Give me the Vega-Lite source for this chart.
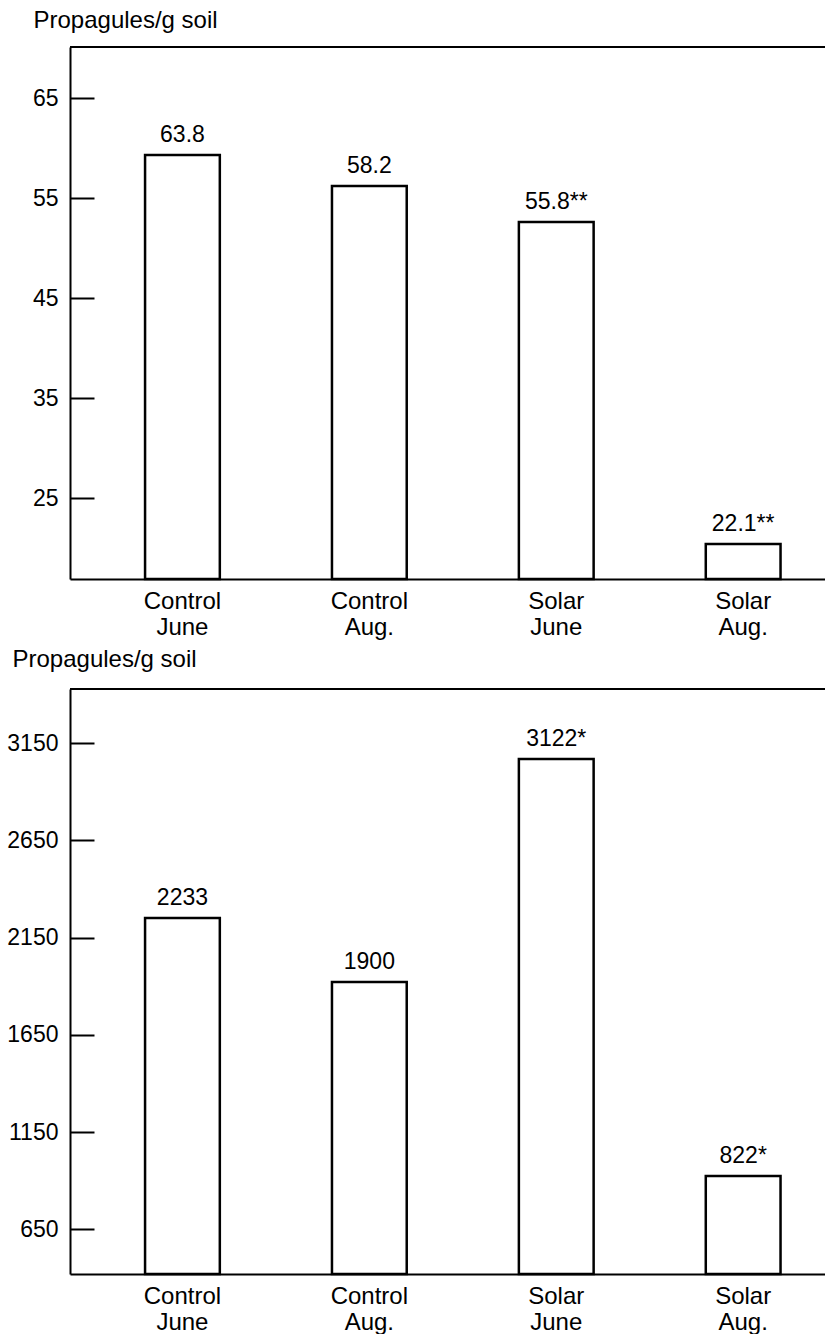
{
  "$schema": "https://vega.github.io/schema/vega-lite/v6.json",
  "padding": {"left": 6, "top": 8, "right": 0, "bottom": 0},
  "spacing": 8,
  "config": {"view": {"stroke": null}, "font": "Liberation Sans"},
  "datasets": {
    "top": [
      {"group": "Control June", "height": 59.3, "label": "63.8"},
      {"group": "Control Aug.", "height": 56.2, "label": "58.2"},
      {"group": "Solar June", "height": 52.6, "label": "55.8**"},
      {"group": "Solar Aug.", "height": 20.4, "label": "22.1**"}
    ],
    "bottom": [
      {"group": "Control June", "height": 2250, "label": "2233"},
      {"group": "Control Aug.", "height": 1922, "label": "1900"},
      {"group": "Solar June", "height": 3068, "label": "3122*"},
      {"group": "Solar Aug.", "height": 924, "label": "822*"}
    ]
  },
  "vconcat": [
    {
      "width": 755,
      "height": 532,
      "data": {"name": "top"},
      "layer": [
        {
          "mark": {"type": "rule", "color": "black", "strokeWidth": 2},
          "encoding": {"y": {"datum": 70.1, "type": "quantitative"}}
        },
        {
          "encoding": {
            "x": {
              "field": "group", "type": "nominal", "sort": null,
              "scale": {"range": [0, 785.6], "paddingInner": 0.6, "paddingOuter": 0.4016},
              "axis": {"title": null, "labelExpr": "split(datum.label, ' ')", "labelFontSize": 24, "labelColor": "black", "labelAngle": 0, "labelPadding": 10, "labelLineHeight": 26, "labelBaseline": "top", "ticks": false, "domainColor": "black", "domainWidth": 2}
            },
            "y": {
              "field": "height", "type": "quantitative",
              "scale": {"domain": [16.9, 70.1], "nice": false, "zero": false},
              "axis": {"values": [25, 35, 45, 55, 65], "format": "d", "title": "Propagules/g soil", "titleAngle": 0, "titleAlign": "left", "titleBaseline": "alphabetic", "titleX": -37, "titleY": -20, "titleFontSize": 24, "titleFontWeight": "normal", "titleColor": "black", "labelFontSize": 23, "labelColor": "black", "labelPadding": 36, "tickSize": -24, "tickWidth": 2, "tickColor": "black", "domainColor": "black", "domainWidth": 2, "grid": false}
            }
          },
          "layer": [
            {
              "mark": {"type": "bar", "fill": "white", "stroke": "black", "strokeWidth": 2.5},
              "encoding": {"y2": {"datum": 16.9}}
            },
            {
              "mark": {"type": "text", "fontSize": 23, "dy": -13, "baseline": "alphabetic", "color": "black"},
              "encoding": {"text": {"field": "label"}}
            }
          ]
        }
      ]
    },
    {
      "width": 755,
      "height": 585,
      "data": {"name": "bottom"},
      "layer": [
        {
          "mark": {"type": "rule", "color": "black", "strokeWidth": 2},
          "encoding": {"y": {"datum": 3428, "type": "quantitative"}}
        },
        {
          "encoding": {
            "x": {
              "field": "group", "type": "nominal", "sort": null,
              "scale": {"range": [0, 785.6], "paddingInner": 0.6, "paddingOuter": 0.4016},
              "axis": {"title": null, "labelExpr": "split(datum.label, ' ')", "labelFontSize": 24, "labelColor": "black", "labelAngle": 0, "labelPadding": 10, "labelLineHeight": 26, "labelBaseline": "top", "ticks": false, "domainColor": "black", "domainWidth": 2}
            },
            "y": {
              "field": "height", "type": "quantitative",
              "scale": {"domain": [420, 3428], "nice": false, "zero": false},
              "axis": {"values": [650, 1150, 1650, 2150, 2650, 3150], "format": "d", "title": "Propagules/g soil", "titleAngle": 0, "titleAlign": "left", "titleBaseline": "alphabetic", "titleX": -58, "titleY": -23, "titleFontSize": 24, "titleFontWeight": "normal", "titleColor": "black", "labelFontSize": 23, "labelColor": "black", "labelPadding": 36, "tickSize": -24, "tickWidth": 2, "tickColor": "black", "domainColor": "black", "domainWidth": 2, "grid": false}
            }
          },
          "layer": [
            {
              "mark": {"type": "bar", "fill": "white", "stroke": "black", "strokeWidth": 2.5},
              "encoding": {"y2": {"datum": 420}}
            },
            {
              "mark": {"type": "text", "fontSize": 23, "dy": -13, "baseline": "alphabetic", "color": "black"},
              "encoding": {"text": {"field": "label"}}
            }
          ]
        }
      ]
    }
  ]
}
